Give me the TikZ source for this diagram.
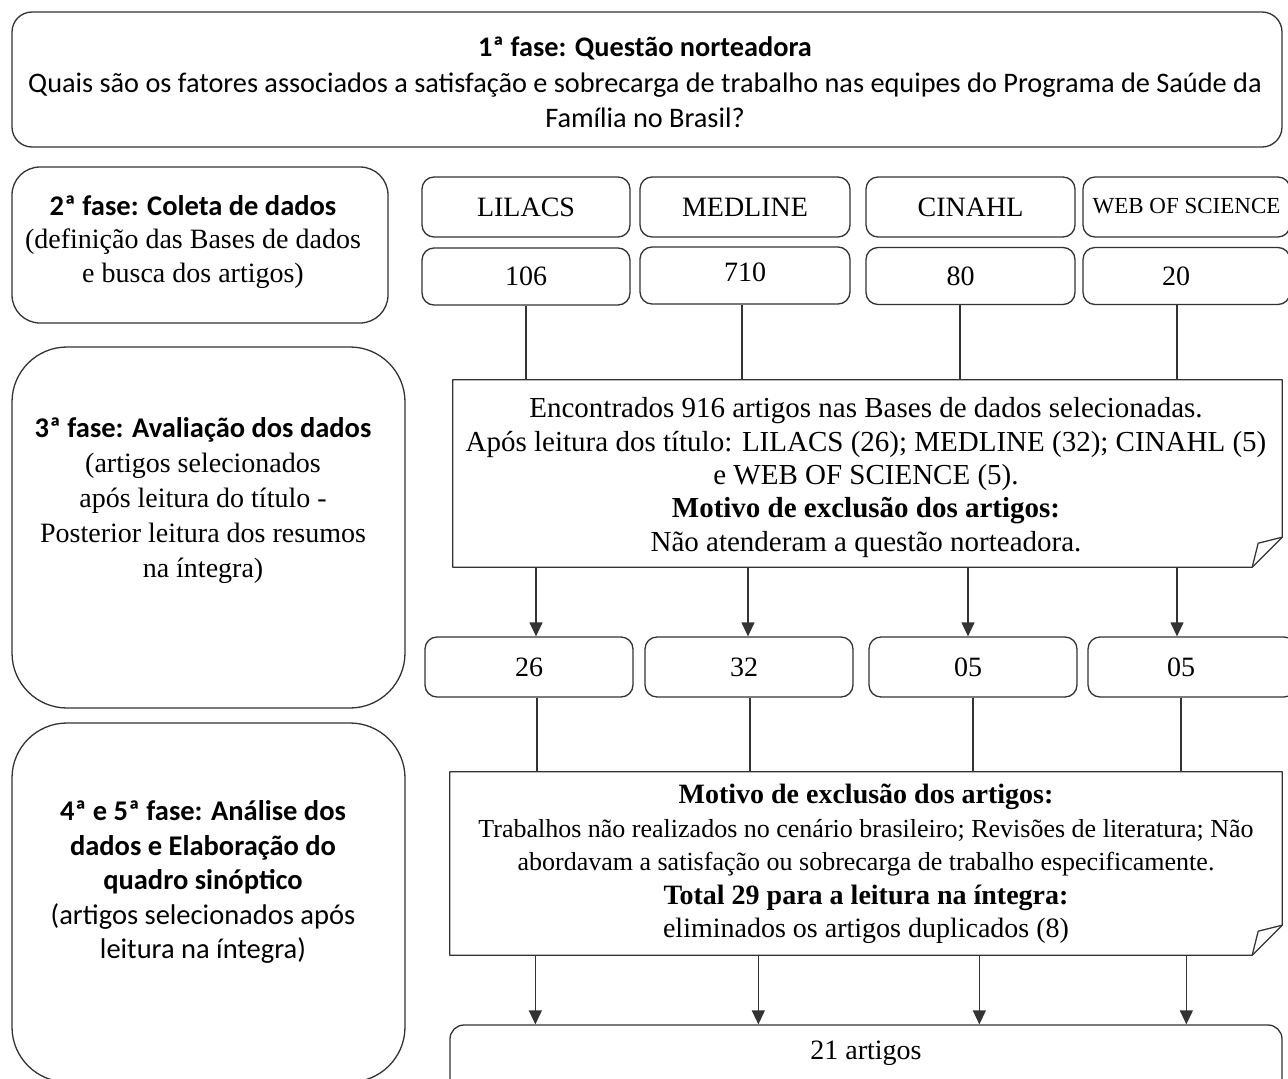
\documentclass[tikz,border=0pt]{standalone}
\usepackage{fontspec}
\setmainfont{Liberation Serif}
\newfontfamily\calfont{Carlito}
\usetikzlibrary{arrows.meta}
\begin{document}
\begin{tikzpicture}[x=1pt,y=-1pt,
  rbox/.style={draw=black!80, line width=1.3pt, rounded corners=#1, inner sep=0pt},
  rbox/.default=12pt,
  cell/.style={rbox, minimum height=60pt, font=\fontsize{28}{34}\selectfont},
  txt/.style={align=center, inner sep=0pt},
  link/.style={draw=black!80, line width=1.3pt},
  arr/.style={link, -{Triangle[length=14pt,width=13pt]}},
  notebox/.style={inner sep=0pt, align=center},
  noteline/.style={draw=black!80, line width=1.3pt, line join=round}
]
\path[use as bounding box] (0,0) rectangle (1288,1079);
\clip (0,0) rectangle (1288,1079);

% phase 1
\node[rbox=20pt, minimum width=1270pt, minimum height=135pt] (q) at (647,79.5) {};
\node[txt, font=\calfont\fontsize{28.3}{35.5}\selectfont] (qt) at (645,82.5)
  {{\bfseries 1ª fase: Questão norteadora}\\
   Quais são os fatores associados a satisfação e sobrecarga de trabalho nas equipes do Programa de Saúde da\\
   Família no Brasil?};

% left phase boxes
\node[rbox=28pt, minimum width=376pt, minimum height=156pt] (p2) at (200,245) {};
\node[txt, font=\fontsize{28}{33.5}\selectfont] (p2t) at (193,242)
  {{\calfont\fontsize{28.5}{33.5}\selectfont\bfseries 2ª fase: Coleta de dados}\\
   (definição das Bases de dados\\
   e busca dos artigos)};

\node[rbox=55pt, minimum width=393pt, minimum height=361pt] (p3) at (208.5,527.5) {};
\node[txt, font=\fontsize{28}{35}\selectfont] (p3t) at (203,501)
  {{\calfont\fontsize{28.5}{35}\selectfont\bfseries 3ª fase: Avaliação dos dados}\\
   (artigos selecionados\\
   após leitura do título -\\
   Posterior leitura dos resumos\\
   na íntegra)};

\node[rbox=55pt, minimum width=393pt, minimum height=359pt] (p4) at (208.5,902.5) {};
\node[txt, font=\calfont\fontsize{28.5}{34.5}\selectfont] (p4t) at (203,882)
  {{\bfseries 4ª e 5ª fase: Análise dos}\\
   {\bfseries dados e Elaboração do}\\
   {\bfseries quadro sinóptico}\\
   (artigos selecionados após\\
   leitura na íntegra)};

% databases
\node[cell, minimum width=208pt] (lil) at (526,207) {LILACS};
\node[cell, minimum width=210pt] (med) at (745,207) {MEDLINE};
\node[cell, minimum width=209pt] (cin) at (970.5,207) {CINAHL};
\node[cell, minimum width=207pt, font=\fontsize{23}{28}\selectfont] (wos) at (1186.5,207) {\raisebox{3pt}{WEB OF SCIENCE}};

\node[cell, minimum width=208pt, minimum height=57pt] (c106) at (526,276.5) {106};
\node[cell, minimum width=210pt, minimum height=57pt] (c710) at (745,275.5) {\raisebox{6pt}{710}};
\node[cell, minimum width=209pt, minimum height=57pt] (c80) at (970.5,276) {\hspace*{-20pt}80};
\node[cell, minimum width=207pt, minimum height=57pt] (c20) at (1186.5,276) {\hspace*{-21pt}20};

% note 1
\node[notebox, minimum width=829pt, minimum height=187pt] (f1) at (867.5,473.5) {};
\node[txt, font=\fontsize{29}{33.3}\selectfont] (f1t) at (866,477.5)
  {Encontrados 916 artigos nas Bases de dados selecionadas.\\
   Após leitura dos título: LILACS (26); MEDLINE (32); CINAHL (5)\\
   e WEB OF SCIENCE (5).\\
   \textbf{Motivo de exclusão dos artigos:}\\
   Não atenderam a questão norteadora.};
\draw[noteline] (f1.north west) -- (f1.north east) -- ([yshift=30pt]f1.south east)
  -- ([xshift=-30pt]f1.south east) -- (f1.south west) -- cycle;
\draw[noteline] ([yshift=30pt]f1.south east) -- ([xshift=-24pt,yshift=24pt]f1.south east)
  -- ([xshift=-30pt]f1.south east);

% row 3
\node[cell, minimum width=208pt] (r26) at (529,667) {26};
\node[cell, minimum width=208pt] (r32) at (749,667) {\hspace*{-10pt}32};
\node[cell, minimum width=208pt] (r05a) at (973,667) {\hspace*{-10pt}05};
\node[cell, minimum width=208pt] (r05b) at (1192,667) {\hspace*{-22pt}05};

% note 2
\node[notebox, minimum width=832pt, minimum height=183pt] (f2) at (866,863.5) {};
\node[txt, font=\fontsize{26}{33.5}\selectfont] (f2t) at (866,864)
  {{\fontsize{28}{33.5}\selectfont\bfseries Motivo de exclusão dos artigos:}\\
   Trabalhos não realizados no cenário brasileiro; Revisões de literatura; Não\\
   abordavam a satisfação ou sobrecarga de trabalho especificamente.\\
   {\fontsize{28}{33.5}\selectfont\bfseries Total 29 para a leitura na íntegra:}\\
   {\fontsize{28}{33.5}\selectfont eliminados os artigos duplicados (8)}};
\draw[noteline] (f2.north west) -- (f2.north east) -- ([yshift=30pt]f2.south east)
  -- ([xshift=-30pt]f2.south east) -- (f2.south west) -- cycle;
\draw[noteline] ([yshift=30pt]f2.south east) -- ([xshift=-24pt,yshift=24pt]f2.south east)
  -- ([xshift=-30pt]f2.south east);

% final
\node[rbox=14pt, minimum width=832pt, minimum height=70pt] (fin) at (866,1060) {};
\node[txt, font=\fontsize{28}{34}\selectfont] (fint) at (866,1053) {21 artigos};

% connectors row2 -> note1
\coordinate (u1) at (c106.south);
\coordinate (u2) at ([xshift=-3pt]c710.south);
\coordinate (u3) at ([xshift=-10.5pt]c80.south);
\coordinate (u4) at ([xshift=-9.5pt]c20.south);
\foreach \c in {u1,u2,u3,u4} \draw[link] (\c) -- (\c |- f1.north);

% note1 -> row3
\coordinate (d1) at ([xshift=7pt]r26.north);
\coordinate (d2) at ([xshift=-1pt]r32.north);
\coordinate (d3) at ([xshift=-5pt]r05a.north);
\coordinate (d4) at ([xshift=-15pt]r05b.north);
\foreach \c in {d1,d2,d3,d4} \draw[arr] (\c |- f1.south) -- (\c);

% row3 -> note2
\coordinate (v1) at ([xshift=8pt]r26.south);
\coordinate (v2) at ([xshift=1pt]r32.south);
\coordinate (v3) at (r05a.south);
\coordinate (v4) at ([xshift=-11pt]r05b.south);
\foreach \c in {v1,v2,v3,v4} \draw[link] (\c) -- (\c |- f2.north);

% note2 -> final
\coordinate (e1) at ([xshift=86pt]fin.north west);
\coordinate (e2) at ([xshift=309pt]fin.north west);
\coordinate (e3) at ([xshift=530pt]fin.north west);
\coordinate (e4) at ([xshift=737pt]fin.north west);
\foreach \c in {e1,e2,e3,e4} \draw[arr] (\c |- f2.south) -- (\c);
\end{tikzpicture}
\end{document}
